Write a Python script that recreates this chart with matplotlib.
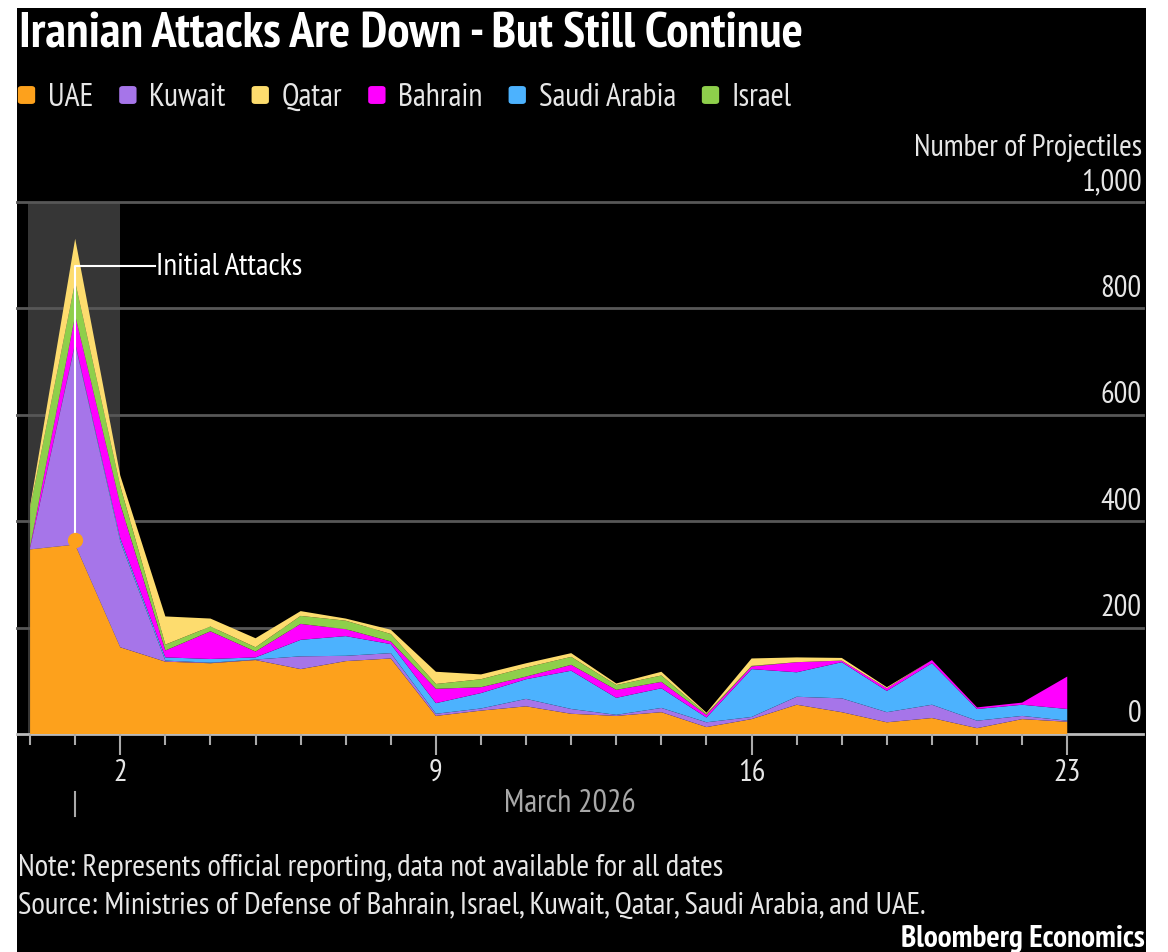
import pandas as pd
import matplotlib
matplotlib.use('Agg')
import matplotlib.pyplot as plt
import matplotlib.dates as mdates
import matplotlib.ticker as mticker
from matplotlib import font_manager
from matplotlib.patches import FancyBboxPatch, Rectangle

# daily projectile counts, Feb 28 - Mar 23 2026
dates = pd.date_range('2026-02-28', '2026-03-23', freq='D')
uae = [347, 356, 163, 136, 133, 139, 122, 137, 142, 34, 44, 52, 38, 34, 41, 13, 28, 55, 41, 22, 30, 11, 28, 23]
kuwait = [3, 377, 199, 2, 1, 1, 24, 10, 10, 4, 4, 14, 9, 2, 8, 9, 4, 15, 26, 19, 25, 14, 6, 2]
saudi = [0, 2, 6, 6, 7, 4, 31, 37, 17, 20, 29, 37, 72, 32, 37, 9, 90, 46, 68, 40, 78, 22, 21, 22]
bahrain = [2, 52, 64, 13, 52, 11, 30, 13, 5, 27, 11, 5, 11, 15, 12, 5, 5, 19, 3, 5, 6, 3, 4, 61]
israel = [72, 63, 34, 11, 9, 8, 15, 16, 14, 9, 15, 17, 15, 9, 12, 2, 1, 0, 0, 0, 0, 0, 0, 0]
qatar = [4, 81, 20, 53, 15, 17, 9, 4, 8, 23, 9, 8, 7, 3, 7, 2, 14, 9, 5, 2, 0, 0, 0, 0]

stack_names = ['UAE', 'Kuwait', 'Saudi Arabia', 'Bahrain', 'Israel', 'Qatar']
stack_values = [uae, kuwait, saudi, bahrain, israel, qatar]
legend_names = ['UAE', 'Kuwait', 'Qatar', 'Bahrain', 'Saudi Arabia', 'Israel']
colors = {'UAE': '#fda11c', 'Kuwait': '#a675e9', 'Qatar': '#fddc6e',
          'Bahrain': '#ff00ff', 'Saudi Arabia': '#4cb2fe', 'Israel': '#8ecf4b'}
yticks = [0, 200, 400, 600, 800, 1000]
highlight_end = '2026-03-02'

# pick a narrow face if there is one, the Bloomberg font is condensed
FONT, SCALE = 'DejaVu Sans', 0.78
for cand in ['PT Sans Narrow', 'Roboto Condensed', 'Archivo Narrow', 'Asap Condensed']:
    try:
        font_manager.findfont(cand, fallback_to_default=False)
        FONT, SCALE = cand, 1.0
        break
    except ValueError:
        pass
plt.rcParams['font.family'] = [FONT, 'DejaVu Sans']


def fs(size):
    return size * SCALE


W, H = 1168, 953


def fx(px):
    return px / W


def fy(py):
    return 1 - py / H


fig = plt.figure(figsize=(W / 100, H / 100), dpi=100, facecolor='white')
fig.add_artist(Rectangle((fx(17), 0), fx(1146) - fx(17), fy(9), transform=fig.transFigure,
                         facecolor='black', edgecolor='none', zorder=-10))

ax = fig.add_axes([fx(17), fy(735), fx(1143) - fx(17), fy(203) - fy(735)])
ax.set_facecolor('none')
x = mdates.date2num(dates)
ax.set_xlim(x[0] - 0.29, x[0] + 24.68)
ax.set_ylim(0, 1000)
for s in ax.spines.values():
    s.set_visible(False)

# highlighted "initial attacks" window
ax.axvspan(x[0] - 0.04, mdates.datestr2num(highlight_end), color='#363636', zorder=0.5, lw=0)

for v in yticks:
    ax.axhline(v, color='#bbbbbb' if v == 0 else '#575757', lw=2, zorder=1, clip_on=False)
    ax.annotate(f'{v:,}', xy=(1, v), xycoords=('axes fraction', 'data'), xytext=(-1, 9),
                textcoords='offset points', ha='right', va='baseline', color='#e6e6e6',
                fontsize=fs(22))

ax.stackplot(x, *stack_values, colors=[colors[n] for n in stack_names], lw=0, zorder=2)

# annotation
ax.plot([x[1], x[1], x[0] + 2.77], [uae[1], 880, 880], color='white', lw=1.5, zorder=3)
ax.plot(x[1], uae[1] + 8, 'o', color=colors['UAE'], ms=10, zorder=4)
ax.text(x[0] + 2.8, 880, 'Initial Attacks', color='white', fontsize=fs(22.5), va='center', ha='left')

# x axis
ax.set_yticks([])
ax.xaxis.set_major_locator(mdates.DayLocator(bymonthday=[2, 9, 16, 23]))
ax.xaxis.set_major_formatter(mticker.FuncFormatter(lambda v, p: str(mdates.num2date(v).day)))
ax.xaxis.set_minor_locator(mticker.FixedLocator(x))
ax.tick_params(axis='x', which='major', length=15, width=1.5, color='#aaaaaa',
               labelcolor='#e6e6e6', labelsize=fs(22), pad=2)
ax.tick_params(axis='x', which='minor', length=8, width=1.5, color='#aaaaaa')
ax.plot([x[1], x[1]], [-0.109, -0.154], transform=ax.get_xaxis_transform(),
        color='#aaaaaa', lw=1.5, clip_on=False)
ax.text(0.491, -0.145, 'March 2026', transform=ax.transAxes, ha='center', va='baseline',
        color='#a8a8a8', fontsize=fs(23))

# titles and notes
fig.text(fx(19), fy(47), 'Iranian Attacks Are Down - But Still Continue', color='white',
         fontsize=fs(36), fontweight='bold', va='baseline')
fig.text(fx(1142), fy(156), 'Number of Projectiles', color='#e6e6e6', fontsize=fs(22),
         ha='right', va='baseline')
fig.text(fx(18), fy(876), 'Note: Represents official reporting, data not available for all dates',
         color='#e6e6e6', fontsize=fs(22.3), va='baseline')
fig.text(fx(18), fy(914), 'Source: Ministries of Defense of Bahrain, Israel, Kuwait, Qatar, Saudi Arabia, and UAE.',
         color='#e6e6e6', fontsize=fs(22.5), va='baseline')
fig.text(fx(1145), fy(947), 'Bloomberg Economics', color='white', fontsize=fs(22.5),
         fontweight='bold', ha='right', va='baseline')

# legend laid out left to right
renderer = fig.canvas.get_renderer()
cur = 18
for name in legend_names:
    fig.add_artist(FancyBboxPatch((fx(cur + 1), fy(104)), fx(15), fy(88) - fy(104),
                                  boxstyle='round,pad=0.001,rounding_size=0.003',
                                  transform=fig.transFigure, facecolor=colors[name],
                                  edgecolor='none'))
    t = fig.text(fx(cur + 30), fy(106), name, color='#e6e6e6', fontsize=fs(23), va='baseline')
    bb = t.get_window_extent(renderer)
    cur = cur + 30 + bb.width + 26

fig.savefig('out.png', dpi=100, facecolor=fig.get_facecolor())
